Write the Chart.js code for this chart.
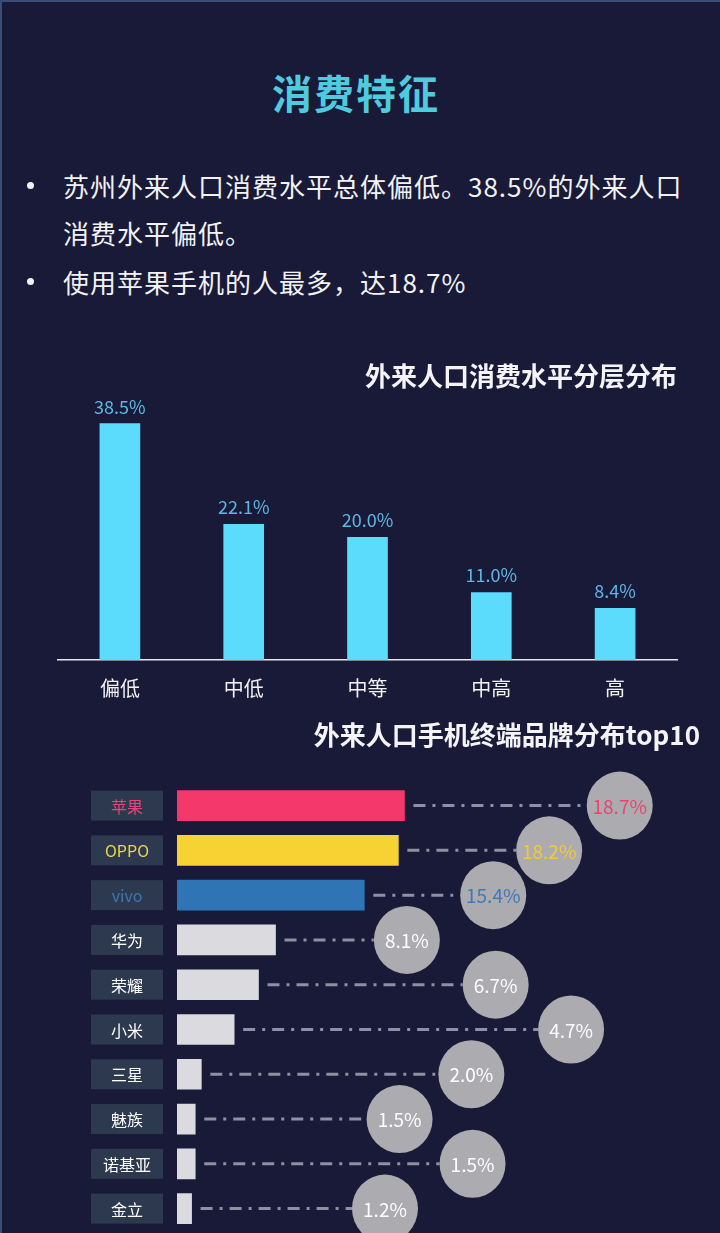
<!DOCTYPE html>
<html>
<head>
<meta charset="utf-8">
<script src="https://cdn.jsdelivr.net/npm/chart.js@4/dist/chart.umd.min.js"></script>
<style>
    html, body {
        margin: 0;
        padding: 0;
        background: #191a37;
    }
    .frame {
        position: relative;
        width: 718px;
        height: 1231px;
        overflow: hidden;
        background: #191a37;
        border-top: 2px solid #3b4d76;
        border-left: 2px solid #3b4d76;
        font-family: "Noto Sans CJK SC", sans-serif;
    }
    .title {
        position: absolute;
        top: 65px;
        left: 0;
        width: 708px;
        margin: 0;
        text-align: center;
        font-size: 40px;
        line-height: 50px;
        letter-spacing: 2px;
        font-weight: bold;
        color: #4fcbe0;
    }
    .points {
        position: absolute;
        top: 160px;
        left: -2px;
        margin: 0;
        padding: 0;
        list-style: none;
        color: #f2f2f4;
        font-size: 26px;
        line-height: 47px;
        letter-spacing: 1px;
    }
    .points li {
        position: relative;
        padding-left: 63px;
        white-space: nowrap;
    }
    .points li + li {
        margin-top: 2px;
    }
    .points li::before {
        content: "";
        position: absolute;
        left: 27px;
        top: 20px;
        width: 7px;
        height: 7px;
        border-radius: 50%;
        background: #f2f2f4;
    }
    canvas {
        position: absolute;
        left: -2px;
    }
    #levelChart { top: 348px; }
    #brandChart { top: 708px; }
</style>
</head>
<body>
<div class="frame">
    <h1 class="title">消费特征</h1>
    <ul class="points">
        <li>苏州外来人口消费水平总体偏低。38.5%的外来人口<br>消费水平偏低。</li>
        <li>使用苹果手机的人最多，达18.7%</li>
    </ul>
    <canvas id="levelChart" width="720" height="372"></canvas>
    <canvas id="brandChart" width="720" height="523"></canvas>
</div>

<script>
// consumption level distribution (%)
const levels = ['偏低', '中低', '中等', '中高', '高'];
const levelShare = [38.5, 22.1, 20.0, 11.0, 8.4];

// top10 phone brands (%)
const brands = ['苹果', 'OPPO', 'vivo', '华为', '荣耀', '小米', '三星', '魅族', '诺基亚', '金立'];
const brandShare = [18.7, 18.2, 15.4, 8.1, 6.7, 4.7, 2.0, 1.5, 1.5, 1.2];

// where each callout bubble sits, in x-axis units (layout only)
const calloutAt = [36.4, 30.6, 26.0, 18.9, 26.2, 32.4, 24.2, 18.3, 24.3, 17.1];

const FONT = '"Noto Sans CJK SC", sans-serif';
Chart.defaults.font.family = FONT;
Chart.defaults.devicePixelRatio = 1;

// value labels above the vertical bars
const barValueLabels = {
    id: 'barValueLabels',
    afterDatasetsDraw(chart) {
        const ctx = chart.ctx;
        const meta = chart.getDatasetMeta(0);
        ctx.save();
        ctx.font = '18px ' + FONT;
        ctx.fillStyle = '#5fb6e6';
        ctx.textAlign = 'center';
        ctx.textBaseline = 'alphabetic';
        meta.data.forEach((bar, i) => {
            ctx.fillText(levelShare[i].toFixed(1) + '%', bar.x, bar.y - 10);
        });
        ctx.restore();
    }
};

new Chart(document.getElementById('levelChart'), {
    type: 'bar',
    data: {
        labels: levels,
        datasets: [{
            data: levelShare,
            backgroundColor: '#5cdcfc',
            barThickness: 40
        }]
    },
    options: {
        responsive: false,
        animation: false,
        layout: {
            padding: { left: 58, right: 43, top: 0, bottom: 6 }
        },
        plugins: {
            legend: { display: false },
            tooltip: { enabled: false },
            title: {
                display: true,
                text: '外来人口消费水平分层分布',
                align: 'end',
                color: '#f4f4f6',
                font: { size: 26, weight: 'bold' },
                padding: { top: 11, bottom: 10 }
            }
        },
        scales: {
            x: {
                grid: { display: false, drawTicks: false },
                border: { display: true, color: '#e4e6f0', width: 1.5 },
                ticks: { color: '#f2f2f4', font: { size: 20 }, padding: 16 }
            },
            y: {
                display: false,
                min: 0,
                max: 42
            }
        }
    },
    plugins: [barValueLabels]
});

const brandBarColors = ['#f5386b', '#f6d232', '#2f74b5', '#dadadf', '#dadadf', '#dadadf', '#dadadf', '#dadadf', '#dadadf', '#dadadf'];
const brandTextColors = ['#e2487a', '#f2d44a', '#3b78b4', '#ffffff', '#ffffff', '#ffffff', '#ffffff', '#ffffff', '#ffffff', '#ffffff'];
const bubbleTextColors = ['#e8456f', '#f3c93a', '#3d78b8', '#ffffff', '#ffffff', '#ffffff', '#ffffff', '#ffffff', '#ffffff', '#ffffff'];

// brand name boxes on the left, dash-dot leaders and grey bubbles on the right
const brandDecor = {
    id: 'brandDecor',
    afterDatasetsDraw(chart) {
        const ctx = chart.ctx;
        const xScale = chart.scales.x;
        const meta = chart.getDatasetMeta(0);
        ctx.save();
        meta.data.forEach((bar, i) => {
            const y = bar.y;
            const h = bar.height;

            // name box
            ctx.fillStyle = '#2d394f';
            ctx.fillRect(91, y - h / 2, 72, h);
            ctx.fillStyle = brandTextColors[i];
            ctx.font = '16px ' + FONT;
            ctx.textAlign = 'center';
            ctx.textBaseline = 'middle';
            ctx.fillText(brands[i], 127, y + 1);

            // leader line
            const cx = xScale.getPixelForValue(calloutAt[i]);
            const r = 33;
            ctx.strokeStyle = '#8e90a4';
            ctx.lineWidth = 3;
            ctx.setLineDash([12, 7, 3, 7]);
            ctx.beginPath();
            ctx.moveTo(bar.x + 9, y);
            ctx.lineTo(cx - r, y);
            ctx.stroke();
            ctx.setLineDash([]);

            // bubble
            ctx.fillStyle = '#ababb0';
            ctx.beginPath();
            ctx.ellipse(cx, y, r, r + 1, 0, 0, Math.PI * 2);
            ctx.fill();
            ctx.fillStyle = bubbleTextColors[i];
            ctx.font = '19px ' + FONT;
            ctx.fillText(brandShare[i].toFixed(1) + '%', cx, y + 1);
        });
        ctx.restore();
    }
};

new Chart(document.getElementById('brandChart'), {
    type: 'bar',
    data: {
        labels: brands,
        datasets: [{
            data: brandShare,
            backgroundColor: brandBarColors,
            barThickness: 30
        }]
    },
    options: {
        indexAxis: 'y',
        responsive: false,
        animation: false,
        layout: {
            padding: { left: 177, right: 20, top: 0, bottom: 2 }
        },
        plugins: {
            legend: { display: false },
            tooltip: { enabled: false },
            title: {
                display: true,
                text: '外来人口手机终端品牌分布top10',
                align: 'end',
                color: '#f4f4f6',
                font: { size: 26, weight: 'bold' },
                padding: { top: 10, bottom: 32 }
            }
        },
        scales: {
            x: { display: false, min: 0, max: 43 },
            y: { display: false }
        }
    },
    plugins: [brandDecor]
});
</script>
</body>
</html>
